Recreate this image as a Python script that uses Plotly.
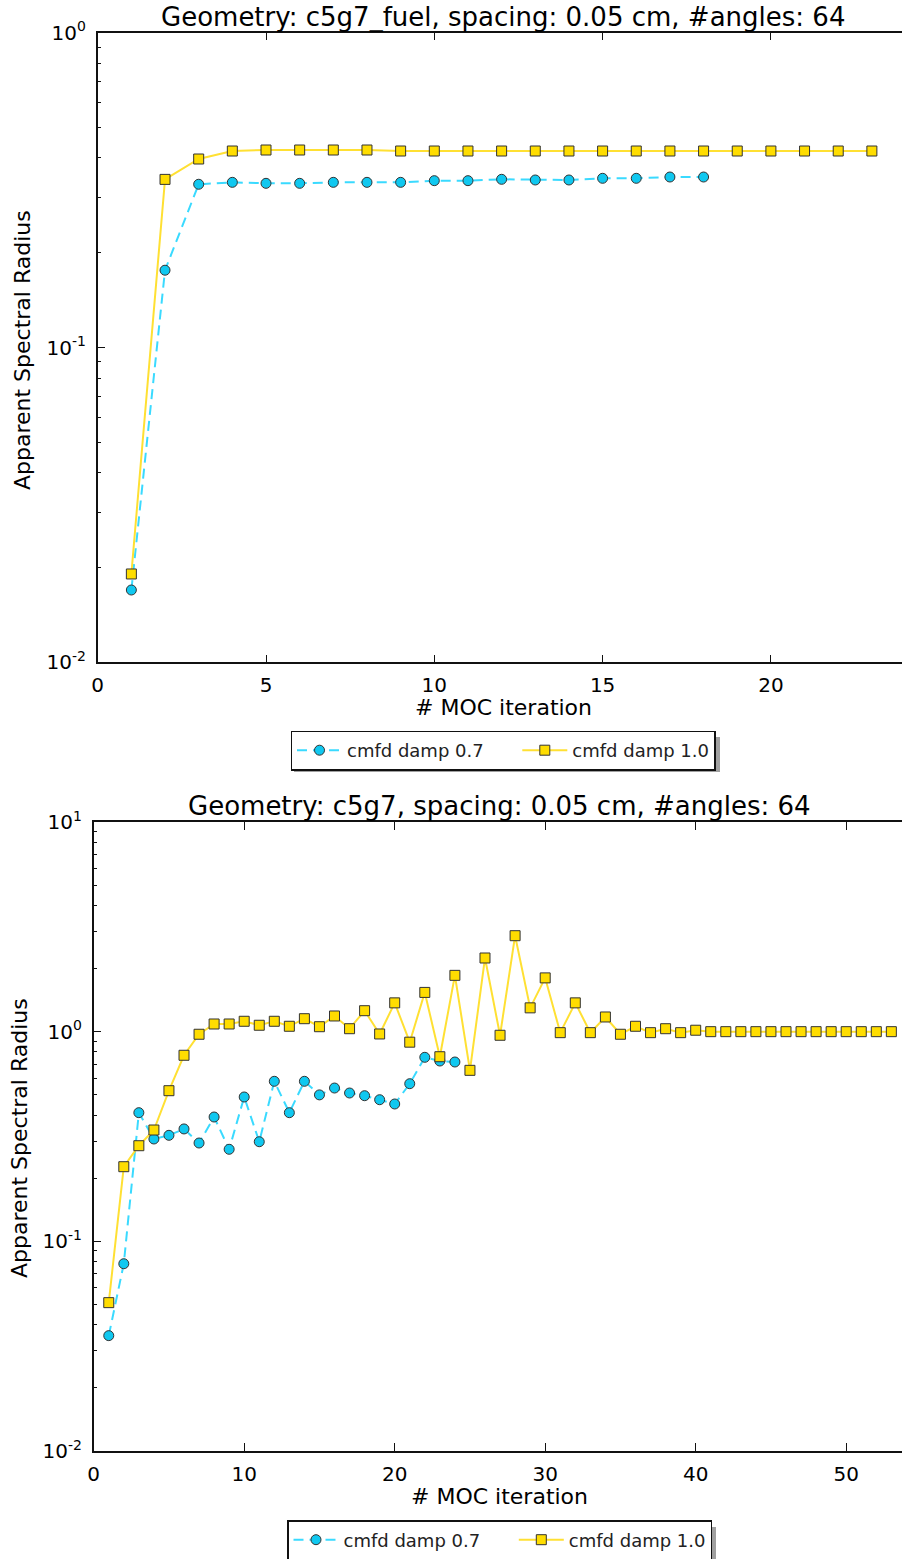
import plotly.graph_objects as go

W, H = 902, 1559

# ---------------- data ----------------
# Top: c5g7_fuel
fuel_x_07 = list(range(1, 19))
fuel_y_07 = [0.01697, 0.176, 0.330, 0.3347, 0.3323, 0.3323, 0.3347, 0.3347, 0.3347,
             0.3388, 0.3388, 0.3422, 0.3405, 0.3405, 0.3447, 0.3447, 0.3480, 0.3480]
fuel_x_10 = list(range(1, 24))
fuel_y_10 = [0.01908, 0.342, 0.397, 0.4209, 0.4240, 0.4240, 0.4240, 0.4240,
             0.4209, 0.4209, 0.4209, 0.4209, 0.4209, 0.4209, 0.4209, 0.4209,
             0.4209, 0.4209, 0.4209, 0.4209, 0.4209, 0.4209, 0.4209]

# Bottom: c5g7
core_x_07 = list(range(1, 25))
core_y_07 = [0.0355, 0.0782, 0.4108, 0.3077, 0.3204, 0.3436, 0.2944, 0.3917,
             0.2748, 0.4880, 0.2986, 0.5798, 0.4108, 0.5798, 0.4994, 0.5385,
             0.5099, 0.4950, 0.4736, 0.4519, 0.5647, 0.7546, 0.7245, 0.7167]
core_x_10 = list(range(1, 54))
core_y_10 = [0.0510, 0.2270, 0.2858, 0.3396, 0.5229, 0.7716, 0.9719, 1.088, 1.088,
             1.121, 1.073, 1.121, 1.061, 1.153, 1.056, 1.188, 1.033, 1.259, 0.975,
             1.372, 0.891, 1.539, 0.7595, 1.856, 0.654, 2.246, 0.9612, 2.869, 1.299,
             1.805, 0.989, 1.372, 0.989, 1.175, 0.972, 1.061, 0.989, 1.033, 0.989,
             1.016, 1.000, 1.000, 1.000, 1.000, 1.000, 1.000, 1.000, 1.000, 1.000,
             1.000, 1.000, 1.000, 1.000]

series_names = ["cmfd damp 0.7", "cmfd damp 1.0"]
titles = ["Geometry: c5g7_fuel, spacing: 0.05 cm, #angles: 64",
          "Geometry: c5g7, spacing: 0.05 cm, #angles: 64"]
x_title = "# MOC iteration"
y_title = "Apparent Spectral Radius"

# ---------------- style ----------------
FONT = "DejaVu Sans"
CYAN_FILL = "#10C8F0"
CYAN_LINE = "#3ADAFF"
YEL_FILL = "#FFDD00"
YEL_LINE = "#FFE033"
EDGE = "#333333"
GAP = "\u00a0" * 5  # spacing between legend entries


def py(px):
    return 1 - px / H


def pxx(px):
    return px / W


fig = go.Figure()


def add_pair(x07, y07, x10, y10, xa, ya, leg):
    fig.add_trace(go.Scatter(
        x=x07, y=y07, name=series_names[0] + GAP, mode="lines+markers",
        line=dict(color=CYAN_LINE, width=2, dash="10px,6px"),
        marker=dict(symbol="circle", size=10, color=CYAN_FILL,
                    line=dict(color=EDGE, width=1)),
        xaxis=xa, yaxis=ya, legend=leg))
    fig.add_trace(go.Scatter(
        x=x10, y=y10, name=series_names[1], mode="lines+markers",
        line=dict(color=YEL_LINE, width=2),
        marker=dict(symbol="square", size=10, color=YEL_FILL,
                    line=dict(color=EDGE, width=1)),
        xaxis=xa, yaxis=ya, legend=leg))


add_pair(fuel_x_07, fuel_y_07, fuel_x_10, fuel_y_10, "x", "y", "legend")
add_pair(core_x_07, core_y_07, core_x_10, core_y_10, "x2", "y2", "legend2")

tickfont = dict(family=FONT, size=20, color="black")
common_x = dict(showline=True, linecolor="#111", linewidth=1.5, mirror="ticks",
                ticks="inside", ticklen=8, tickwidth=1, tickcolor="#111",
                showgrid=False, zeroline=False, tickfont=tickfont,
                automargin=False, ticklabelstandoff=4)
common_y = dict(type="log", showline=True, linecolor="#111", linewidth=1.5,
                mirror=False, ticks="inside", ticklen=8, tickwidth=1,
                tickcolor="#111", showgrid=False, zeroline=False,
                tickfont=tickfont, automargin=False, ticklabelstandoff=6)


def minor_vals(lo, hi):
    vals = []
    for e in range(lo, hi):
        for m in range(2, 10):
            vals.append(m * 10 ** e)
    return vals


# top panel: left spine at 97.7px, 33.66 px per unit
top_left = 97.7
top_scale = 33.66
fig.update_layout(
    xaxis=dict(domain=[pxx(top_left), 1], range=[0, (W - top_left) / top_scale],
               tickvals=[0, 5, 10, 15, 20], anchor="y", **common_x),
    yaxis=dict(domain=[py(662.3), py(32.7)], range=[-2, 0], anchor="x",
               tickvals=[0.01, 0.1, 1],
               ticktext=["10<sup>-2</sup>", "10<sup>-1</sup>", "10<sup>0</sup>"],
               minor=dict(tickvals=minor_vals(-2, 0), ticks="inside", ticklen=4,
                          tickcolor="#111"),
               **common_y),
)

bot_left = 93.7
bot_scale = 15.05
fig.update_layout(
    xaxis2=dict(domain=[pxx(bot_left), 1], range=[0, (W - bot_left) / bot_scale],
                tickvals=[0, 10, 20, 30, 40, 50], anchor="y2", **common_x),
    yaxis2=dict(domain=[py(1451), py(822)], range=[-2, 1], anchor="x2",
                tickvals=[0.01, 0.1, 1, 10],
                ticktext=["10<sup>-2</sup>", "10<sup>-1</sup>", "10<sup>0</sup>",
                          "10<sup>1</sup>"],
                minor=dict(tickvals=minor_vals(-2, 1), ticks="inside", ticklen=4,
                           tickcolor="#111"),
                **common_y),
)

leg_common = dict(orientation="h", xanchor="center", yanchor="middle",
                  bgcolor="white", bordercolor="#111", borderwidth=1.5,
                  itemwidth=45,
                  font=dict(family=FONT, size=18, color="#222"))
fig.update_layout(
    legend=dict(x=pxx(503), y=py(750.5), **leg_common),
    legend2=dict(x=pxx(499.5), y=py(1540), **leg_common),
)

# legend drop shadows
shapes = []
for (x0, y0, x1, y1) in [(290, 733, 716, 768), (287, 1523, 712, 1557)]:
    shapes.append(dict(type="rect", xref="paper", yref="paper",
                       x0=pxx(x0 + 4), x1=pxx(x1 + 4), y0=py(y1 + 4), y1=py(y0 + 4),
                       fillcolor="#a0a0a0", line=dict(width=0), layer="above"))

ann = []
ann.append(dict(text=titles[0], x=pxx(503), y=py(17), xref="paper", yref="paper",
                showarrow=False, xanchor="center", yanchor="middle",
                font=dict(family=FONT, size=26, color="black")))
ann.append(dict(text=titles[1], x=pxx(499), y=py(806), xref="paper", yref="paper",
                showarrow=False, xanchor="center", yanchor="middle",
                font=dict(family=FONT, size=26, color="black")))
for (cx, cy) in [(503, 707), (499, 1496)]:
    ann.append(dict(text=x_title, x=pxx(cx), y=py(cy), xref="paper", yref="paper",
                    showarrow=False, xanchor="center", yanchor="middle",
                    font=dict(family=FONT, size=22, color="black")))
for (cx, cy) in [(22, 350), (19, 1138)]:
    ann.append(dict(text=y_title, x=pxx(cx), y=py(cy), xref="paper", yref="paper",
                    showarrow=False, xanchor="center", yanchor="middle", textangle=-90,
                    font=dict(family=FONT, size=22, color="black")))

fig.update_layout(
    width=W, height=H,
    margin=dict(l=0, r=0, t=0, b=0, pad=0, autoexpand=False),
    paper_bgcolor="white", plot_bgcolor="white",
    font=dict(family=FONT, color="black"),
    annotations=ann, shapes=shapes, showlegend=True,
)

fig.write_html("out.html")
